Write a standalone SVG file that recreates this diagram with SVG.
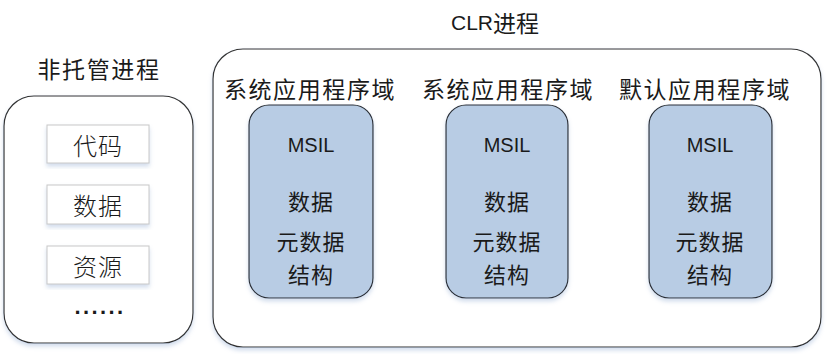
<svg xmlns="http://www.w3.org/2000/svg" width="828" height="354" viewBox="0 0 828 354">
<defs>
<filter id="sh" x="-10%" y="-10%" width="120%" height="125%">
<feDropShadow dx="0" dy="3" stdDeviation="2" flood-color="#9bb4d6" flood-opacity="0.45"/>
</filter>
<style>
.outer{fill:#fff;stroke:#333;stroke-width:1.2;filter:url(#sh)}
.item{fill:#fff;stroke:#c8c8c8;stroke-width:1;filter:url(#sh)}
.dom{fill:#b8cce4;stroke:#2b2f36;stroke-width:1.2;filter:url(#sh)}
.cjk{font-family:"Noto Sans CJK SC","Noto Sans",sans-serif;font-size:23px;fill:#1a1a1a;text-anchor:middle;dominant-baseline:central}
.lat{font-family:"Liberation Sans","Noto Sans CJK SC",sans-serif;font-size:20px;fill:#1a1a1a;text-anchor:middle;dominant-baseline:central}
.lbl{letter-spacing:1.6px}
.thin{font-size:24px;font-weight:300;letter-spacing:1px}
.in{font-size:22px;letter-spacing:1px}
</style>
</defs>
<g id="unmanaged">
<text class="cjk lbl" x="99" y="68">非托管进程</text>
<rect class="outer" x="4" y="96" width="189" height="247" rx="30"/>
</g>
<g id="item-code"><rect class="item" x="47" y="125" width="102" height="38"/><text class="cjk thin" x="98" y="144">代码</text></g>
<g id="item-data"><rect class="item" x="47" y="185" width="102" height="39"/><text class="cjk thin" x="98" y="204">数据</text></g>
<g id="item-res"><rect class="item" x="47" y="246" width="102" height="38"/><text class="cjk thin" x="98" y="265">资源</text></g>
<g id="dots"><text class="cjk" x="100" y="306" style="font-family:'Liberation Sans',sans-serif;font-weight:bold;font-size:22px;letter-spacing:2.4px">......</text></g>
<g id="clr">
<text class="lat" x="495" y="22" style="font-size:21px">CLR<tspan style="font-family:'Noto Sans CJK SC',sans-serif;font-size:23px">进程</tspan></text>
<rect class="outer" x="213" y="49" width="608" height="298" rx="30"/>
</g>
<g id="domain1">
<text class="cjk lbl" x="310" y="88">系统应用程序域</text>
<rect class="dom" x="249" y="105" width="124" height="193" rx="20"/>
<text class="lat" x="311" y="145">MSIL</text>
<text class="cjk in" x="311" y="200">数据</text>
<text class="cjk in" x="311" y="240">元数据</text>
<text class="cjk in" x="311" y="273">结构</text>
</g>
<g id="domain2">
<text class="cjk lbl" x="508" y="88">系统应用程序域</text>
<rect class="dom" x="446" y="105" width="122" height="193" rx="20"/>
<text class="lat" x="507" y="145">MSIL</text>
<text class="cjk in" x="507" y="200">数据</text>
<text class="cjk in" x="507" y="240">元数据</text>
<text class="cjk in" x="507" y="273">结构</text>
</g>
<g id="domain3">
<text class="cjk lbl" x="705" y="88">默认应用程序域</text>
<rect class="dom" x="649" y="105" width="123" height="193" rx="20"/>
<text class="lat" x="710" y="145">MSIL</text>
<text class="cjk in" x="710" y="200">数据</text>
<text class="cjk in" x="710" y="240">元数据</text>
<text class="cjk in" x="710" y="273">结构</text>
</g>
<g id="connectors"/>
</svg>
